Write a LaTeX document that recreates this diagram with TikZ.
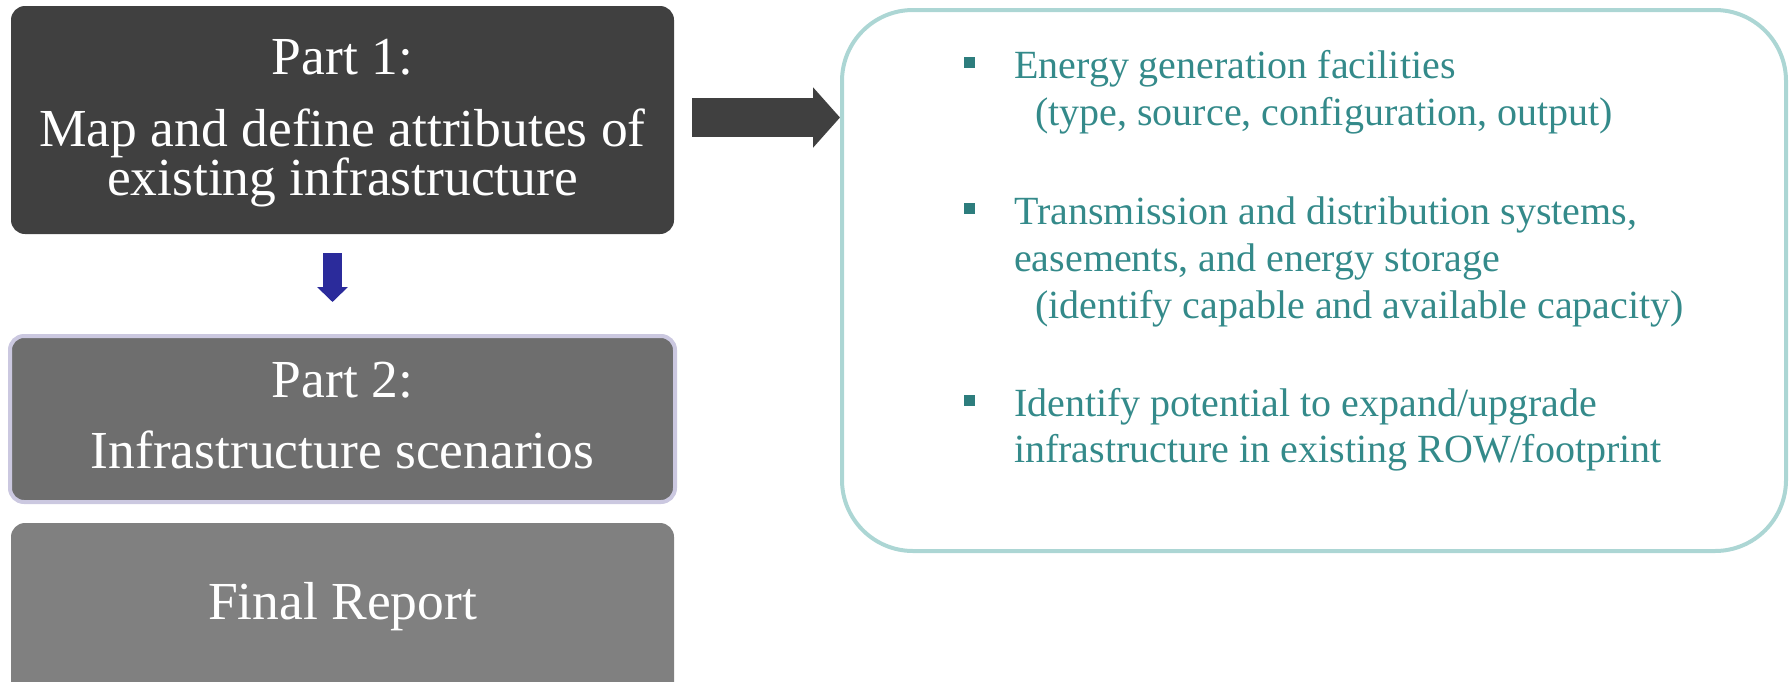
\documentclass[tikz,border=0pt]{standalone}
\usepackage{fontspec}
\setmainfont{Liberation Serif}
\usetikzlibrary{calc,arrows.meta}
\definecolor{darkbox}{RGB}{64,64,64}
\definecolor{midbox}{RGB}{110,110,110}
\definecolor{lightbox}{RGB}{128,128,128}
\definecolor{lavender}{RGB}{203,200,224}
\definecolor{tealborder}{RGB}{172,214,212}
\definecolor{tealtext}{RGB}{52,138,138}
\definecolor{tealbullet}{RGB}{45,125,125}
\definecolor{bluearrow}{RGB}{43,43,155}
\tikzset{
  stagebox/.style={rounded corners=14pt, inner sep=0pt},
  bigtext/.style={text=white, font=\fontsize{53.5}{53.5}\selectfont, anchor=base, inner sep=0pt},
  itemtext/.style={text=tealtext, font=\fontsize{40}{40}\selectfont, anchor=base west, inner sep=0pt},
  bulletmark/.style={fill=tealbullet, minimum size=11pt, inner sep=0pt},
}
\begin{document}
\begin{tikzpicture}[x=1pt,y=-1pt]
\useasboundingbox (0,0) rectangle (1791,681);
\clip (0,0) rectangle (1791,681);
% left boxes
\node[stagebox, fill=darkbox, minimum width=663pt, minimum height=228pt] (p1) at (342.5,120) {};
\node[stagebox, fill=midbox, draw=lavender, line width=4pt, minimum width=665pt, minimum height=166pt] (p2) at (342.5,419) {};
\node[stagebox, fill=lightbox, minimum width=663pt, minimum height=180pt] (p3) at (342.5,613) {};
% texts
\node[bigtext] (t1a) at (342.5,74) {Part 1:};
\node[bigtext] (t1b) at (342.5,146) {Map and define attributes of};
\node[bigtext] (t1c) at (342.5,195) {existing infrastructure};
\node[bigtext] (t2a) at (342.5,397) {Part 2:};
\node[bigtext] (t2b) at (342.5,468) {Infrastructure scenarios};
\node[bigtext] (t3a) at (342.5,619) {Final Report};
% right box
\node[draw=tealborder, line width=4pt, rounded corners=71pt, minimum width=944pt, minimum height=541pt, inner sep=0pt] (rb) at (1314,280.5) {};
% bullets
\node[bulletmark] (b1) at (969,62) {};
\node[itemtext] (i1a) at (1014,78) {Energy generation facilities};
\node[itemtext] (i1b) at (1035,125) {(type, source, configuration, output)};
\node[bulletmark] (b2) at (969,208) {};
\node[itemtext] (i2a) at (1014,224) {Transmission and distribution systems,};
\node[itemtext] (i2b) at (1014,271) {easements, and energy storage};
\node[itemtext] (i2c) at (1035,318) {(identify capable and available capacity)};
\node[bulletmark] (b3) at (969,400) {};
\node[itemtext] (i3a) at (1014,416) {Identify potential to expand/upgrade};
\node[itemtext] (i3b) at (1014,462) {infrastructure in existing ROW/footprint};
% arrows
\coordinate (ra) at ($(p1.east)+(18,-2.5)$);
\coordinate (rb2) at (rb.west |- ra);
\draw[darkbox, line width=39pt, -{Triangle[length=27pt, width=59pt]}] (ra) -- (rb2);
\coordinate (da) at ($(p1.south)+(-10,19)$);
\coordinate (db) at (da |- 0,302);
\draw[bluearrow, line width=19pt, -{Triangle[length=15pt, width=30pt]}] (da) -- (db);
\end{tikzpicture}
\end{document}
